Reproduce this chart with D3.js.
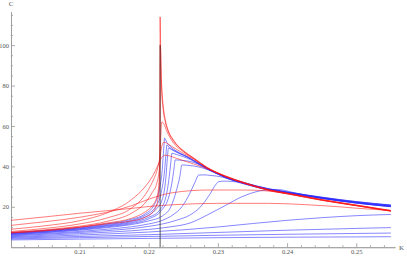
<!DOCTYPE html>
<html>
<head>
<meta charset="utf-8">
<script src="https://cdn.jsdelivr.net/npm/d3@7"></script>
<style>
  body { margin: 0; background: #fff; }
  .axis path, .axis line { stroke: #999; stroke-width: 0.8; }
  .axis text { font-family: "Liberation Serif", serif; font-size: 6.5px; fill: #555; }
  .axis-label { font-family: "Liberation Serif", serif; font-size: 7px; fill: #555; }
</style>
</head>
<body>
<div class="chart"></div>
<script>
var svgWidth = 407;
var svgHeight = 256;

var xTicks = [0.21, 0.22, 0.23, 0.24, 0.25];
var yTicks = [20, 40, 60, 80, 100];
var kCritical = 0.221654;
var critLineTop = 100;

// red family [K, C]
var redCurves = [
  [[0.2001,13.3],[0.205,15],[0.21,16.8],[0.2175,19.2],[0.2202,20.2],[0.2235,21],[0.23,21.7],[0.2373,21.7],[0.2425,21.1],[0.2468,20.2],[0.25,19.3],[0.255,18.2]],
  [[0.2001,10.8],[0.205,12.6],[0.21,14.8],[0.2175,20.5],[0.2202,24],[0.2235,27],[0.2286,28.3],[0.234,28.3],[0.2373,27.8],[0.24,26.5],[0.245,23.3],[0.25,20.6],[0.255,17.9]],
  [[0.2001,8.9],[0.205,10.6],[0.21,13.1],[0.214,17],[0.2175,23.5],[0.2195,30],[0.2207,36],[0.2214,41],[0.2219,44.5],[0.2224,45.5],[0.223,45.2],[0.224,44],[0.2255,42.3],[0.2285,38.8],[0.231,35],[0.234,31.4],[0.2373,28.1],[0.24,26.4],[0.245,23.2],[0.25,20.5],[0.255,17.8]],
  [[0.2001,7.8],[0.205,9.3],[0.21,11.5],[0.214,14.5],[0.2175,19.3],[0.2195,26],[0.2205,32],[0.2212,38],[0.2216,44],[0.2219,50],[0.2222,52],[0.2226,51.5],[0.2235,49.5],[0.225,46.5],[0.2265,43.5],[0.2285,39.1],[0.231,35.1],[0.234,31.5],[0.2373,28.2],[0.24,26.5],[0.245,23.3],[0.25,20.6],[0.255,17.9]],
  [[0.2001,7.4],[0.205,8.6],[0.21,10.4],[0.214,12.8],[0.2175,16.8],[0.2195,22],[0.2205,27],[0.2212,32],[0.2216,41],[0.22175,55],[0.2219,62],[0.2222,61],[0.2226,57.5],[0.2235,52],[0.225,47.3],[0.2265,43.8],[0.2285,39.2],[0.231,35.2],[0.234,31.6],[0.2373,28.3],[0.24,26.6],[0.245,23.4],[0.25,20.7],[0.255,18]],
  [[0.2001,7.2],[0.205,8.3],[0.21,10],[0.214,12],[0.2175,14.3],[0.2195,17.5],[0.2205,20.5],[0.2212,25],[0.2215,32],[0.22162,55],[0.22168,100],[0.22185,82],[0.2221,70],[0.2224,63],[0.2228,58],[0.2236,53],[0.225,47.6],[0.2265,44],[0.2285,39.3],[0.231,35.3],[0.234,31.7],[0.2373,28.4],[0.24,26.7],[0.245,23.5],[0.25,20.8],[0.255,18.1]],
  [[0.2001,7.0],[0.205,8.1],[0.21,9.8],[0.214,11.6],[0.2175,13.0],[0.2195,14.8],[0.2205,17],[0.221,19.5],[0.2213,23],[0.2215,28],[0.2216,38],[0.22163,60],[0.22165,114],[0.22175,92],[0.2219,76],[0.2221,68],[0.2224,62],[0.2228,57.5],[0.2236,52.5],[0.225,47.8],[0.2265,44.2],[0.2285,39.4],[0.231,35.4],[0.234,31.8],[0.2373,28.5],[0.24,26.8],[0.245,23.6],[0.25,20.9],[0.255,18.2]]
];

// blue family [K, C]
var blueCurves = [
  [[0.2001,7.2],[0.205,8.3],[0.21,9.8],[0.214,11.6],[0.2175,13.8],[0.2195,16.5],[0.2208,21],[0.2215,28],[0.22195,38],[0.2222,50],[0.2223,54],[0.2226,52],[0.2232,49.6],[0.224,47.6],[0.225,45.8],[0.2265,43],[0.2285,39],[0.231,35],[0.234,31.8],[0.2373,29],[0.24,27.4],[0.245,24.8],[0.25,22.6],[0.255,20.9]],
  [[0.2001,7.0],[0.205,8.1],[0.21,9.5],[0.214,11.2],[0.2175,13.2],[0.2195,15.8],[0.221,20],[0.2218,27],[0.2223,38],[0.2225,46],[0.22263,50.6],[0.223,49.3],[0.2236,48],[0.2245,46.4],[0.2255,44.9],[0.2265,42.9],[0.2285,38.9],[0.231,34.9],[0.234,31.7],[0.2373,28.9],[0.24,27.3],[0.245,24.7],[0.25,22.5],[0.255,20.8]],
  [[0.2001,6.8],[0.205,7.9],[0.21,9.2],[0.214,10.8],[0.2175,12.7],[0.2195,15],[0.221,18.5],[0.222,24],[0.2225,35],[0.2227,44],[0.22286,49],[0.2235,47.9],[0.2245,46.2],[0.2255,44.7],[0.2265,42.8],[0.2285,38.8],[0.231,34.8],[0.234,31.6],[0.2373,28.8],[0.24,27.2],[0.245,24.6],[0.25,22.4],[0.255,20.7]],
  [[0.2001,6.6],[0.205,7.7],[0.21,9],[0.214,10.5],[0.2175,12.2],[0.22,14.8],[0.2215,18],[0.2225,25],[0.2229,33],[0.2232,42],[0.22335,46.5],[0.224,45.9],[0.225,44.8],[0.226,43.4],[0.2275,40.6],[0.2285,38.7],[0.231,34.7],[0.234,31.5],[0.2373,28.7],[0.24,27.1],[0.245,24.5],[0.25,22.2],[0.255,20.5]],
  [[0.2001,6.4],[0.205,7.4],[0.21,8.7],[0.214,10.1],[0.2175,11.7],[0.22,14],[0.2218,18],[0.223,26],[0.2235,35],[0.2237,40],[0.22383,43.2],[0.2245,43.1],[0.2255,42.7],[0.2265,42],[0.2285,38.6],[0.231,34.6],[0.234,31.4],[0.2373,28.6],[0.24,27],[0.245,24.4],[0.25,22.1],[0.255,20.4]],
  [[0.2001,6.2],[0.205,7.2],[0.21,8.4],[0.214,9.7],[0.2175,11.2],[0.22,13],[0.222,15.5],[0.2232,20],[0.224,28],[0.2245,35],[0.2248,40.7],[0.2255,40.6],[0.2265,40.2],[0.2278,39.2],[0.2295,37],[0.231,34.5],[0.234,31.3],[0.2373,28.5],[0.24,26.9],[0.245,24.3],[0.25,22],[0.255,20.2]],
  [[0.2001,5.9],[0.205,6.8],[0.21,7.8],[0.214,8.9],[0.2175,10.1],[0.22,11.5],[0.222,13.3],[0.2235,16],[0.2248,20],[0.226,27],[0.2268,33],[0.2272,35.7],[0.228,35.8],[0.229,35.5],[0.2305,34.8],[0.232,33.3],[0.234,31.2],[0.2373,28.4],[0.24,26.8],[0.245,24.2],[0.25,21.9],[0.255,20.1]],
  [[0.2001,5.6],[0.205,6.4],[0.21,7.3],[0.214,8.2],[0.2175,9.2],[0.22,10.3],[0.222,11.5],[0.224,13.3],[0.226,16],[0.2275,20],[0.2288,26],[0.2297,31],[0.2301,32.4],[0.231,32.7],[0.2325,32.4],[0.234,31.1],[0.2373,28.3],[0.24,26.7],[0.245,24.1],[0.25,21.8],[0.255,20]],
  [[0.2001,5.2],[0.205,5.9],[0.21,6.7],[0.215,7.6],[0.22,8.8],[0.223,10],[0.226,12],[0.2285,16],[0.231,20.5],[0.2335,25],[0.236,27.8],[0.2385,28.6],[0.241,27],[0.245,24.2],[0.25,21.9],[0.255,20.1]],
  [[0.2001,4.9],[0.205,5.4],[0.21,6],[0.215,6.7],[0.22,7.5],[0.225,8.6],[0.23,10],[0.235,11.7],[0.24,13.3],[0.245,14.6],[0.25,15.6],[0.255,16.2]],
  [[0.2001,4.5],[0.21,5.3],[0.22,6.2],[0.23,7.3],[0.24,8.4],[0.25,9.3],[0.255,9.7]],
  [[0.2001,4.1],[0.21,4.7],[0.22,5.3],[0.23,5.9],[0.24,6.4],[0.25,6.8],[0.255,7.0]],
  [[0.2001,3.6],[0.21,4.0],[0.22,4.35],[0.23,4.7],[0.24,4.95],[0.25,5.1],[0.255,5.2]]
];

var svg = d3
  .select(".chart")
  .append("svg")
  .attr("width", svgWidth)
  .attr("height", svgHeight);

var xScale = d3.scaleLinear().domain([0.2001, 0.2556]).range([11, 395]);
var yScale = d3.scaleLinear().domain([0, 116.5]).range([247.2, 11.8]);

var minorX = d3.range(0.202, 0.2555, 0.002).filter(function(d) {
  return Math.abs(d * 100 - Math.round(d * 100)) > 1e-6;
});
var minorY = d3.range(5, 116, 5).filter(function(d) { return d % 20 !== 0; });

// minor ticks
svg.append("g")
  .attr("class", "axis")
  .attr("transform", "translate(0," + yScale(0) + ")")
  .call(d3.axisBottom(xScale).tickValues(minorX).tickSize(-2).tickSizeOuter(0).tickFormat(""));

svg.append("g")
  .attr("class", "axis")
  .attr("transform", "translate(" + xScale.range()[0] + ",0)")
  .call(d3.axisLeft(yScale).tickValues(minorY).tickSize(-2).tickSizeOuter(0).tickFormat(""));

// major ticks
svg.append("g")
  .attr("class", "axis")
  .attr("transform", "translate(0," + yScale(0) + ")")
  .call(d3.axisBottom(xScale).tickValues(xTicks).tickSize(-4).tickSizeOuter(0).tickPadding(2)
    .tickFormat(d3.format(".2f")));

svg.append("g")
  .attr("class", "axis")
  .attr("transform", "translate(" + xScale.range()[0] + ",0)")
  .call(d3.axisLeft(yScale).tickValues(yTicks).tickSize(-4).tickSizeOuter(0).tickPadding(2));

svg.selectAll(".axis .domain").attr("stroke", "#999");

svg.append("text")
  .attr("class", "axis-label")
  .attr("x", xScale.range()[0])
  .attr("y", 6)
  .attr("text-anchor", "middle")
  .text("C");

svg.append("text")
  .attr("class", "axis-label")
  .attr("x", 399)
  .attr("y", yScale(0) + 2.5)
  .text("K");

var line = d3.line()
  .x(function(d) { return xScale(d[0]); })
  .y(function(d) { return yScale(d[1]); })
  .curve(d3.curveMonotoneX);

svg.append("g")
  .selectAll("path")
  .data(blueCurves)
  .enter()
  .append("path")
  .attr("d", line)
  .attr("fill", "none")
  .attr("stroke", "rgb(40,40,255)")
  .attr("stroke-opacity", 0.7)
  .attr("stroke-width", 0.8);

svg.append("g")
  .selectAll("path")
  .data(redCurves)
  .enter()
  .append("path")
  .attr("d", line)
  .attr("fill", "none")
  .attr("stroke", "rgb(255,20,20)")
  .attr("stroke-opacity", 0.7)
  .attr("stroke-width", 0.8);

svg.append("line")
  .attr("x1", xScale(kCritical))
  .attr("x2", xScale(kCritical))
  .attr("y1", yScale(0))
  .attr("y2", yScale(critLineTop))
  .attr("stroke", "#333")
  .attr("stroke-opacity", 0.8)
  .attr("stroke-width", 1);
</script>
</body>
</html>
